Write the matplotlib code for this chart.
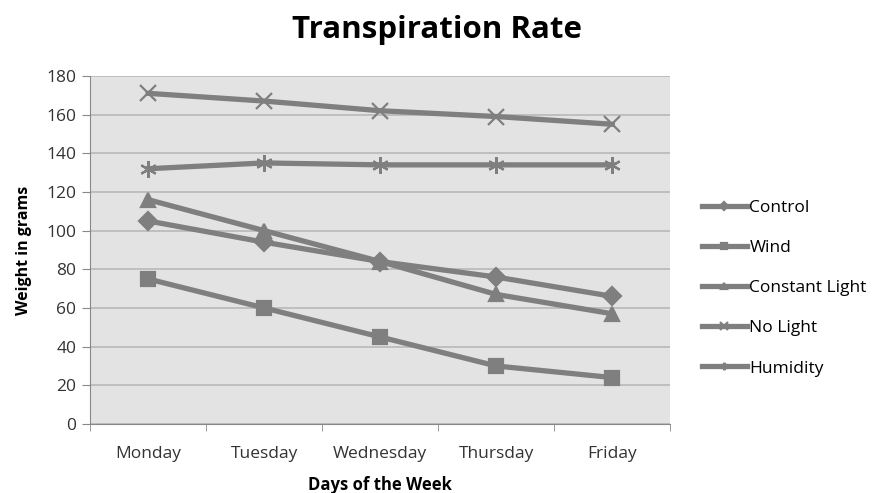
import numpy as np
import matplotlib
matplotlib.use("Agg")
import matplotlib.pyplot as plt

plt.rcParams['font.family'] = ['Open Sans', 'DejaVu Sans']

# ===================================== Data
days = ["Monday", "Tuesday", "Wednesday", "Thursday", "Friday"]
control = [105, 94, 84, 76, 66]
wind = [75, 60, 45, 30, 24]
constant_light = [116, 100, 84, 67, 57]
no_light = [171, 167, 162, 159, 155]
humidity = [132, 135, 134, 134, 134]

series = [
    ("Control", control, "D", 9),
    ("Wind", wind, "s", 10),
    ("Constant Light", constant_light, "^", 10),
    ("No Light", no_light, "x", 12),
    ("Humidity", humidity, (6, 2, 0), 12),
]

line_color = '#7f7f7f'

# ===================================== Plot
fig = plt.figure(figsize=(8.75, 4.93), dpi=100)
ax = fig.add_axes([0.103, 0.140, 0.663, 0.706])
ax.set_facecolor('#e3e3e3')

x = np.arange(len(days))
for name, vals, marker, ms in series:
    ax.plot(x, vals, color=line_color, lw=3.8, marker=marker, markersize=ms,
            markeredgewidth=1.6, markeredgecolor=line_color,
            markerfacecolor=line_color, label=name, zorder=3)

ax.set_xlim(-0.5, 4.5)
ax.set_ylim(0, 180)
ax.set_yticks(range(0, 181, 20))
ax.set_xticks(x)
ax.set_xticklabels(days)
ax.set_xticks(np.arange(-0.5, 4.6, 1), minor=True)
ax.tick_params(axis='x', which='major', length=0, pad=16, labelsize=12.5,
               labelcolor='#333333')
ax.tick_params(axis='x', which='minor', length=5, color='#888888')
ax.tick_params(axis='y', length=6, color='#888888', labelsize=12.5, pad=4,
               labelcolor='#333333')

ax.grid(axis='y', color='#b8b8b8', lw=1.2, zorder=1)
ax.set_axisbelow(True)
for side in ['top', 'right']:
    ax.spines[side].set_visible(False)
ax.spines['left'].set_color('#888888')
ax.spines['bottom'].set_color('#888888')

ax.set_ylabel('Weight in grams', fontsize=11.5, fontweight='bold', labelpad=10)
ax.set_xlabel('Days of the Week', fontsize=12, fontweight='bold', labelpad=10)
fig.text(0.5, 0.939, 'Transpiration Rate', fontsize=22.5, fontweight='bold',
         ha='center', va='center')

leg = ax.legend(loc='center left', bbox_to_anchor=(1.027, 0.39), frameon=False,
                handlelength=2.6, handletextpad=0.15, labelspacing=1.38,
                fontsize=12.5, markerscale=0.45, borderpad=0.4)
for h in leg.legend_handles:
    h.set_linewidth(3.8)

fig.savefig("out.png", dpi=100)
